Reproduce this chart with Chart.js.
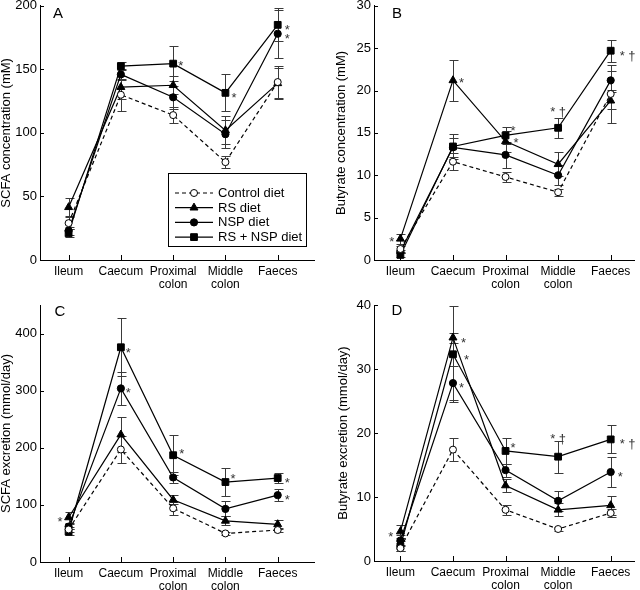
<!DOCTYPE html>
<html><head><meta charset="utf-8">
<script src="https://cdn.jsdelivr.net/npm/chart.js@4.4.0/dist/chart.umd.min.js"></script>
<style>
html,body{margin:0;padding:0;background:#fff;width:640px;height:590px;overflow:hidden;position:relative}
canvas{position:absolute}
</style></head><body>
<canvas id="cA" width="320" height="295" style="left:0;top:0"></canvas>
<canvas id="cB" width="320" height="295" style="left:320px;top:0"></canvas>
<canvas id="cC" width="320" height="300" style="left:0;top:290px"></canvas>
<canvas id="cD" width="320" height="300" style="left:320px;top:290px"></canvas>
<script>
// ---------- DATA ----------
const categories = [['Ileum'], ['Caecum'], ['Proximal', 'colon'], ['Middle', 'colon'], ['Faeces']];
const seriesNames = ['Control diet', 'RS diet', 'NSP diet', 'RS + NSP diet'];

// A: SCFA concentration (mM)
const scfaConcControl = [29, 130, 114, 77, 140];
const scfaConcRS      = [41.5, 136, 137.5, 102, 139];
const scfaConcNSP     = [23, 146, 128, 99, 178];
const scfaConcRSNSP   = [21, 152.5, 154.5, 131.5, 185];
const scfaConcControlErr = [5, 12.5, 6, 4.5, 12.5];
const scfaConcRSErr      = [7, 9, 7, 11, 12];
const scfaConcNSPErr     = [3, 4, 9, 11, 19];
const scfaConcRSNSPErr   = [3, 3, 13.5, 14.5, 13];
const scfaConcTicks = [0, 50, 100, 150, 200];

// B: Butyrate concentration (mM)
const butConcControl = [1.3, 11.6, 9.8, 8.0, 19.6];
const butConcRS      = [2.5, 21.2, 14.0, 11.3, 18.8];
const butConcNSP     = [1.0, 13.3, 12.4, 10.0, 21.2];
const butConcRSNSP   = [0.6, 13.4, 14.7, 15.6, 24.7];
const butConcControlErr = [0.3, 1.0, 0.6, 0.4, 3.4];
const butConcRSErr      = [0.6, 2.4, 1.2, 1.4, 1.0];
const butConcNSPErr     = [0.2, 1.1, 1.5, 1.2, 1.1];
const butConcRSNSPErr   = [0.2, 1.5, 1.0, 1.2, 1.3];
const butConcTicks = [0, 5, 10, 15, 20, 25, 30];

// C: SCFA excretion (mmol/day)
const scfaExcControl = [57, 197, 94, 50, 56];
const scfaExcRS      = [78, 223, 109, 72, 66];
const scfaExcNSP     = [62, 304, 148, 93, 117];
const scfaExcRSNSP   = [53, 376, 187, 140, 147];
const scfaExcControlErr = [5, 23, 11, 3, 4];
const scfaExcRSErr      = [9, 31, 8, 8, 8];
const scfaExcNSPErr     = [5, 29, 9, 13, 10];
const scfaExcRSNSPErr   = [5, 51, 35, 25, 9];
const scfaExcTicks = [0, 100, 200, 300, 400];

// D: Butyrate excretion (mmol/day)
const butExcControl = [2.0, 17.4, 8.0, 5.0, 7.5];
const butExcRS      = [4.6, 34.9, 11.8, 8.0, 8.7];
const butExcNSP     = [3.2, 27.8, 14.2, 9.4, 13.9];
const butExcRSNSP   = [2.3, 32.3, 17.2, 16.3, 19.0];
const butExcControlErr = [0.5, 1.8, 0.8, 0.3, 0.6];
const butExcRSErr      = [1.0, 0.8, 1.0, 1.0, 1.5];
const butExcNSPErr     = [0.8, 2.6, 1.0, 1.6, 2.3];
const butExcRSNSPErr   = [0.8, 7.5, 2.0, 2.5, 2.2];
const butExcTicks = [0, 10, 20, 30, 40];

// significance marks: [series index, category index, text]
const notesA = [[3, 2, '*'], [3, 3, '*'], [3, 4, '*'], [2, 4, '*']];
const notesB = [[1, 0, '*'], [1, 1, '*'], [3, 2, '*'], [1, 2, '*'], [3, 3, '* \u2020'], [3, 4, '* \u2020']];
const notesC = [[1, 0, '*'], [3, 1, '*'], [2, 1, '*'], [3, 2, '*'], [3, 3, '*'], [3, 4, '*'], [2, 4, '*']];
const notesD = [[1, 0, '*'], [1, 1, '*'], [3, 1, '*'], [2, 1, '*'], [3, 2, '*'], [3, 3, '* \u2020'], [3, 4, '* \u2020'], [2, 4, '*']];

// ---------- STYLE (offsets for marks, px) ----------
const noteOffsetsA = [[8, -3], [9, 0], [10, 0], [10, 0]];
const noteOffsetsB = [[-9, -2], [9, -2], [8, -9], [11, -3], [0, -21], [12, 0]];
const noteOffsetsC = [[-9, 0], [8, 1], [8, 0], [9, -6], [8, -8], [10, 0], [10, 0]];
const noteOffsetsD = [[-10, 0], [11, 0], [14, 1], [9, 0], [8, -8], [0, -23], [12, 0], [10, 0]];

const FONT = "'Liberation Sans', Arial, Helvetica, sans-serif";
Chart.defaults.font.family = FONT;
Chart.defaults.color = '#000';

const seriesStyles = [
  { pointStyle: 'circle', radius: 3.5, fill: '#fff', dash: [4, 3] },
  { pointStyle: 'triangle', radius: 4.6, fill: '#000', dash: [] },
  { pointStyle: 'circle', radius: 3.6, fill: '#000', dash: [] },
  { pointStyle: 'rect', radius: 4.8, fill: '#000', dash: [] }
];

const extras = {};

const panelPlugin = {
  id: 'panelExtras',
  beforeDatasetsDraw(chart) {
    const ex = extras[chart.canvas.id];
    const ctx = chart.ctx, xs = chart.scales.x, ys = chart.scales.y;
    ctx.save();
    ctx.strokeStyle = '#3a3a3a';
    ctx.lineWidth = 1;
    ex.values.forEach((vals, s) => {
      vals.forEach((v, i) => {
        const e = ex.errors[s][i];
        const px = Math.round(xs.getPixelForValue(i)) + 0.5;
        const t = Math.round(ys.getPixelForValue(v + e)) + 0.5;
        const b = Math.round(ys.getPixelForValue(v - e)) + 0.5;
        ctx.beginPath();
        ctx.moveTo(px, t); ctx.lineTo(px, b);
        ctx.moveTo(px - 4, t); ctx.lineTo(px + 5, t);
        ctx.moveTo(px - 4, b); ctx.lineTo(px + 5, b);
        ctx.stroke();
      });
    });
    ctx.restore();
  },
  afterDraw(chart) {
    const ex = extras[chart.canvas.id];
    const ctx = chart.ctx, xs = chart.scales.x, ys = chart.scales.y;
    const area = chart.chartArea;
    ctx.save();
    // inside tick marks
    ctx.strokeStyle = '#000';
    ctx.lineWidth = 1;
    ctx.beginPath();
    ys.ticks.forEach(t => {
      const y = Math.round(ys.getPixelForValue(t.value)) + 0.5;
      ctx.moveTo(area.left, y); ctx.lineTo(area.left + 4, y);
    });
    for (let i = 0; i < categories.length; i++) {
      const x = Math.round(xs.getPixelForValue(i)) + 0.5;
      ctx.moveTo(x, area.bottom); ctx.lineTo(x, area.bottom - 5);
    }
    ctx.stroke();
    // panel letter
    ctx.fillStyle = '#000';
    ctx.font = '15px ' + FONT;
    ctx.textAlign = 'center';
    ctx.textBaseline = 'middle';
    ctx.fillText(ex.letter, area.left + ex.letterPos[0], area.top + ex.letterPos[1]);
    // significance notes
    ctx.font = '13px ' + FONT;
    ctx.fillStyle = '#333';
    ctx.textBaseline = 'alphabetic';
    ex.notes.forEach((n, k) => {
      const [s, i, txt] = n;
      const off = ex.noteOffsets[k];
      const x = xs.getPixelForValue(i) + off[0];
      const y = ys.getPixelForValue(ex.values[s][i]) + off[1];
      ctx.textAlign = off[0] < 0 ? 'right' : (off[0] === 0 ? 'center' : 'left');
      const dx = off[0] < 0 ? 3 : (off[0] === 0 ? 0 : -3);
      ctx.fillText(txt, x + dx, y + 9);
    });
    // legend
    if (ex.legend) {
      const L = ex.legend;
      ctx.strokeStyle = '#000';
      ctx.lineWidth = 1;
      ctx.strokeRect(L.x + 0.5, L.y + 0.5, L.w, L.h);
      ctx.font = '13px ' + FONT;
      ctx.textAlign = 'left';
      ctx.textBaseline = 'middle';
      seriesNames.forEach((name, k) => {
        const st = seriesStyles[k];
        const y = L.y + 20 + k * 14.7;
        ctx.strokeStyle = '#000';
        ctx.lineWidth = 1.2;
        ctx.setLineDash(st.dash);
        ctx.beginPath();
        ctx.moveTo(L.x + 7, y); ctx.lineTo(L.x + 45, y);
        ctx.stroke();
        ctx.setLineDash([]);
        ctx.fillStyle = st.fill;
        ctx.lineWidth = 1;
        Chart.helpers.drawPoint(ctx, { pointStyle: st.pointStyle, radius: st.radius, rotation: 0, borderWidth: 1 }, L.x + 26, y);
        ctx.fillStyle = '#000';
        ctx.fillText(name, L.x + 50, y + 0.5);
      });
    }
    ctx.restore();
  }
};
Chart.register(panelPlugin);

function makePanel(cfg) {
  extras[cfg.id] = cfg;
  const datasets = cfg.values.map((vals, s) => {
    const st = seriesStyles[s];
    return {
      label: seriesNames[s],
      data: vals.map((v, i) => ({ x: i, y: v })),
      borderColor: '#000',
      borderWidth: 1.2,
      borderDash: st.dash,
      pointStyle: st.pointStyle,
      pointRadius: st.radius,
      pointBackgroundColor: st.fill,
      pointBorderColor: '#000',
      pointBorderWidth: 1,
      tension: 0,
      clip: false,
      fill: false
    };
  });
  new Chart(document.getElementById(cfg.id), {
    type: 'line',
    data: { datasets },
    options: {
      responsive: false,
      animation: false,
      devicePixelRatio: 1,
      layout: { padding: cfg.padding },
      plugins: { legend: { display: false }, tooltip: { enabled: false } },
      scales: {
        x: {
          type: 'linear',
          min: cfg.xMin, max: cfg.xMax,
          grid: { display: false, drawTicks: false },
          border: { display: true, color: '#000', width: 1 },
          afterBuildTicks: sc => { sc.ticks = categories.map((c, i) => ({ value: i })); },
          afterFit: sc => { sc.height = cfg.xHeight; sc.paddingLeft = 0; sc.paddingRight = 0; },
          ticks: {
            autoSkip: false, maxRotation: 0, minRotation: 0, padding: 5,
            font: { size: 12, lineHeight: 1.1 }, color: '#000',
            callback: v => categories[v]
          }
        },
        y: {
          type: 'linear',
          min: cfg.yTicks[0], max: cfg.yMax,
          grid: { display: false, drawTicks: false },
          border: { display: true, color: '#000', width: 1 },
          afterBuildTicks: sc => { sc.ticks = cfg.yTicks.map(v => ({ value: v })); },
          afterFit: sc => { sc.width = cfg.yWidth; sc.paddingTop = 0; sc.paddingBottom = 0; },
          ticks: { padding: 3, font: { size: 13 }, color: '#000' },
          title: { display: true, text: cfg.yTitle, font: { size: 13 }, color: '#000', padding: { top: cfg.titlePad, bottom: 0 } }
        }
      }
    }
  });
}

makePanel({
  id: 'cA', letter: 'A', letterPos: [18, 8],
  values: [scfaConcControl, scfaConcRS, scfaConcNSP, scfaConcRSNSP],
  errors: [scfaConcControlErr, scfaConcRSErr, scfaConcNSPErr, scfaConcRSNSPErr],
  notes: notesA, noteOffsets: noteOffsetsA,
  yTicks: scfaConcTicks, yMax: 200, yTitle: 'SCFA concentration (mM)', titlePad: -1,
  yWidth: 40, xHeight: 35, padding: { top: 3, right: 2, left: 0, bottom: 0 },
  xMin: -0.547, xMax: 4.698,
  legend: { x: 168, y: 173, w: 138, h: 73 }
});
makePanel({
  id: 'cB', letter: 'B', letterPos: [23, 8],
  values: [butConcControl, butConcRS, butConcNSP, butConcRSNSP],
  errors: [butConcControlErr, butConcRSErr, butConcNSPErr, butConcRSNSPErr],
  notes: notesB, noteOffsets: noteOffsetsB,
  yTicks: butConcTicks, yMax: 30, yTitle: 'Butyrate concentration (mM)', titlePad: 14,
  yWidth: 54, xHeight: 35, padding: { top: 3, right: 0, left: 0, bottom: 0 },
  xMin: -0.502, xMax: 4.447
});
makePanel({
  id: 'cC', letter: 'C', letterPos: [20, 7],
  values: [scfaExcControl, scfaExcRS, scfaExcNSP, scfaExcRSNSP],
  errors: [scfaExcControlErr, scfaExcRSErr, scfaExcNSPErr, scfaExcRSNSPErr],
  notes: notesC, noteOffsets: noteOffsetsC,
  yTicks: scfaExcTicks, yMax: 450, yTitle: 'SCFA excretion (mmol/day)', titlePad: -1,
  yWidth: 40, xHeight: 28, padding: { top: 15, right: 2, left: 0, bottom: 0 },
  xMin: -0.547, xMax: 4.698
});
makePanel({
  id: 'cD', letter: 'D', letterPos: [23, 6],
  values: [butExcControl, butExcRS, butExcNSP, butExcRSNSP],
  errors: [butExcControlErr, butExcRSErr, butExcNSPErr, butExcRSNSPErr],
  notes: notesD, noteOffsets: noteOffsetsD,
  yTicks: butExcTicks, yMax: 40, yTitle: 'Butyrate excretion (mmol/day)', titlePad: 16,
  yWidth: 54, xHeight: 29, padding: { top: 15, right: 0, left: 0, bottom: 0 },
  xMin: -0.502, xMax: 4.447
});
</script>
</body></html>
